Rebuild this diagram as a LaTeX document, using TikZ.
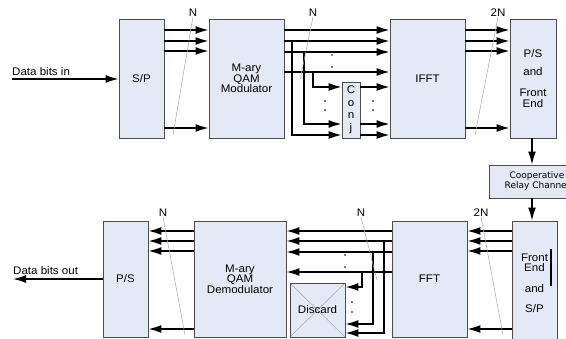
\documentclass[tikz,border=0pt]{standalone}
\usepackage{fontspec}
\setmainfont{Liberation Sans}[FakeStretch=1.05]
\newfontfamily\coopfont{DejaVu Sans}
\usetikzlibrary{arrows.meta}
\definecolor{boxfill}{RGB}{228,233,246}
\begin{document}
\begin{tikzpicture}[x=1pt,y=-1pt,
  blk/.style={draw=black!70, line width=0.9pt, fill=boxfill, inner sep=0pt, align=center, font=\fontsize{11}{10.5}\selectfont},
  sig/.style={line width=1.5pt, -{Latex[length=13pt,width=8pt]}},
  slash/.style={draw=black!35, line width=0.5pt},
  lbl/.style={font=\fontsize{11}{10.5}\selectfont, inner sep=0pt},
  dot/.style={circle, fill=black, inner sep=0pt, minimum size=1.7pt}]
\useasboundingbox (0,0) rectangle (566,339);
\clip (0,0) rectangle (566,339);

% ---------- top row ----------
\node[blk, minimum width=45pt, minimum height=119pt] (sp) at (141.5,78.5) {S/P};
\node[blk, minimum width=75pt, minimum height=119pt] (mod) at (246.5,78.5) {M-ary\\QAM\\Modulator};
\node[blk, minimum width=18pt, minimum height=56pt] (conj) at (351,110) {C\\[2pt]o\\[2pt]n\\[2pt]j};
\node[blk, minimum width=75pt, minimum height=119pt] (ifft) at (427.5,78.5) {IFFT};
\node[blk, minimum width=46pt, minimum height=119pt] (ps1) at (533,78.5) {P/S\\[7.5pt]and\\[10.5pt]Front\\End};
\node[blk, font=\coopfont\fontsize{9}{10}\selectfont, minimum width=96pt, minimum height=33pt] (coop) at (537,181.5) {Cooperative\\Relay Channel};

% ---------- bottom row ----------
\node[blk, minimum width=45pt, minimum height=116pt] (ps2) at (125.5,279) {P/S};
\node[blk, minimum width=92pt, minimum height=116pt] (demod) at (240,279) {M-ary\\QAM\\Demodulator};
\node[blk, minimum width=55pt, minimum height=54pt,
      path picture={\draw[slash] (path picture bounding box.north west) -- (path picture bounding box.south east);
                    \draw[slash] (path picture bounding box.south west) -- (path picture bounding box.north east);}]
      (disc) at (317.5,310) {Discard};
\node[blk, minimum width=75pt, minimum height=116pt] (fft) at (429.5,279) {FFT};
\node[blk, minimum width=45pt, minimum height=124pt] (fe) at (534.5,283) {Front\\End\\[10pt]and\\[9.5pt]S/P};

% bar inside front end
\draw[line width=1.3pt] (551,249) -- (551,286);

% ---------- labels ----------
\node[lbl] (tin) at (12,72) [anchor=west] {Data bits in};
\node[lbl] (tout) at (13,271) [anchor=west] {Data bits out};
\coordinate (din) at (12,79);
\coordinate (dout) at (13,279);

\node[lbl] (n1) at (193,13) {N};
\node[lbl] (n2) at (313,13) {N};
\node[lbl] (n3) at (498,13) {2N};
\node[lbl] (n4) at (163,213) {N};
\node[lbl] (n5) at (361,213) {N};
\node[lbl] (n6) at (481,213) {2N};

% ---------- top arrows ----------
\draw[sig] (din) -- (sp.west |- din);
\foreach \y in {30,41,51,128} \draw[sig] (sp.east |- 0,\y) -- (mod.west |- 0,\y);
\foreach \y in {30,41,52,72} \draw[sig] (mod.east |- 0,\y) -- (ifft.west |- 0,\y);
\coordinate (j1) at (292,41);
\coordinate (j2) at (304,52);
\coordinate (j3) at (313,72);
\draw[sig] (j1) |- (conj.west |- 0,135);
\draw[sig] (j2) |- (conj.west |- 0,124);
\draw[sig] (j3) |- (conj.west |- 0,87);
\foreach \y in {87,124,135} \draw[sig] (conj.east |- 0,\y) -- (ifft.west |- 0,\y);
\foreach \y in {30,41,51,128} \draw[sig] (ifft.east |- 0,\y) -- (ps1.west |- 0,\y);
\draw[sig] (ps1.south -| 532,0) -- (coop.north -| 532,0);
\draw[sig] (coop.south -| 532,0) -- (fe.north -| 532,0);

% ---------- bottom arrows ----------
\foreach \y in {231,241,251,329} \draw[sig] (fe.west |- 0,\y) -- (fft.east |- 0,\y);
\foreach \y in {231,241,252,272} \draw[sig] (fft.west |- 0,\y) -- (demod.east |- 0,\y);
\coordinate (k1) at (384,241);
\coordinate (k2) at (373,252);
\coordinate (k3) at (362,272);
\draw[sig] (k1) |- (disc.east |- 0,333);
\draw[sig] (k2) |- (disc.east |- 0,324);
\draw[sig] (k3) |- (disc.east |- 0,287);
\foreach \y in {231,241,251,329} \draw[sig] (demod.west |- 0,\y) -- (ps2.east |- 0,\y);
\draw[sig] (ps2.west |- dout) -- (dout);

% ---------- dots ----------
\foreach \p in {(332,55),(332,67),(325,101),(325,110),(373,101),(373,110),
                (345,255),(345,267),(352,302),(352,312)}
  \node[dot] at \p {};

% ---------- slashes ----------
\draw[slash] (n1.south) -- (173,135);
\draw[slash] (n2.south) -- (300,80);
\draw[slash] (n3.south) -- (475,135);
\draw[slash] (n4.south) -- (185,335);
\draw[slash] (n5.south) -- (377,280);
\draw[slash] (n6.south) -- (503,335);
\end{tikzpicture}
\end{document}
